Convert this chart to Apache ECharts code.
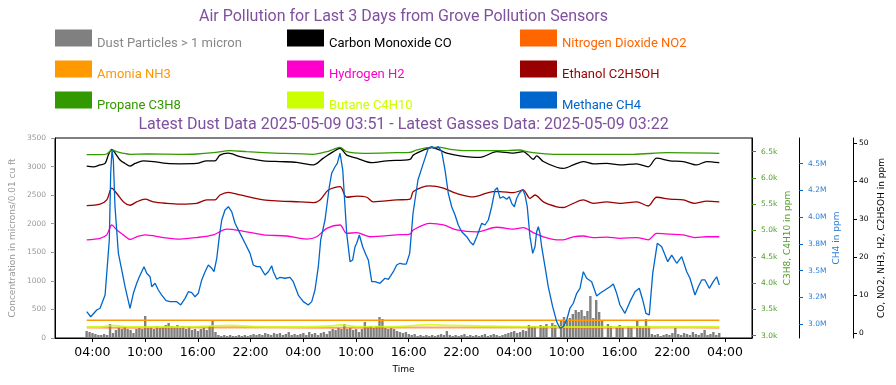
<!DOCTYPE html>
<html><head><meta charset="utf-8">
<script src="https://cdn.jsdelivr.net/npm/echarts@6/dist/echarts.min.js"></script>
<style>html,body{margin:0;padding:0;background:#fff}#c{width:896px;height:385px}</style>
</head><body><div id="c"></div>
<script>
// ---------- texts ----------
const titleText = 'Air Pollution for Last 3 Days from Grove Pollution Sensors';
const subtitleText = 'Latest Dust Data 2025-05-09 03:51 - Latest Gasses Data: 2025-05-09 03:22';

// ---------- axis ticks (x in hours since 2025-05-06 00:00) ----------
const xTickHours = [4,10,16,22,28,34,40,46,52,58,64,70,76];
const xTickLabels = ['04:00','10:00','16:00','22:00','04:00','10:00','16:00','22:00','04:00','10:00','16:00','22:00','04:00'];
const dustTicks = [0,500,1000,1500,2000,2500,3000,3500];
const dustTickLabels = ['0','500','1000','1500','2000','2500','3000','3500'];
const hcTicks = [3000,3500,4000,4500,5000,5500,6000,6500];
const hcTickLabels = ['3.0k','3.5k','4.0k','4.5k','5.0k','5.5k','6.0k','6.5k'];
const ch4Ticks = [3.0,3.25,3.5,3.75,4.0,4.25,4.5];
const ch4TickLabels = ['3.0M','3.2M','3.5M','3.8M','4.0M','4.2M','4.5M'];
const ppmTicks = [0,10,20,30,40,50];
const ppmTickLabels = ['0','10','20','30','40','50'];

// ---------- dust: 20-minute readings starting 03:21 on 2025-05-06 ----------
const dustStartHour = 3.35;
const dustStepHour = 1/3;
const dustValues = [
123,105,88,70,53,53,70,53,245,88,
140,175,158,193,158,140,88,158,175,158,
385,175,193,158,210,175,193,228,263,210,
193,228,175,210,158,193,140,158,123,158,
175,140,210,298,105,53,35,53,35,53,
35,35,53,35,53,35,53,70,53,70,
53,88,70,53,88,70,88,53,70,105,
53,70,53,70,88,53,105,70,88,53,
88,105,70,123,158,140,175,158,245,158,
175,140,158,105,158,280,193,210,175,210,
368,333,175,158,175,158,123,105,88,105,
70,53,70,35,53,35,53,35,53,35,
53,70,53,123,53,35,53,35,53,70,
35,53,35,53,35,53,70,35,53,70,
53,35,53,70,88,105,123,88,105,140,
123,228,193,210,0,228,210,245,0,263,
228,0,315,368,298,350,420,490,455,490,
385,473,735,350,665,455,315,0,245,210,
0,193,228,175,0,210,193,0,315,210,
193,333,210,70,53,70,35,53,70,53,
88,175,70,53,88,70,53,105,70,53,
88,140,53,70,105,53,88];

// ---------- CH4 (millions of ppm) ----------
const ch4Hours = [3.36,3.82,4.50,4.88,5.45,5.64,5.93,6.09,6.24,6.39,6.58,6.96,7.35,7.72,8.29,8.67,9.05,9.35,9.62,9.88,
10.19,10.57,10.76,11.14,11.51,11.90,12.39,12.84,13.61,14.06,14.55,14.93,15.31,15.69,16.06,16.45,16.83,17.20,17.59,17.85,
18.16,18.45,18.73,19.10,19.48,19.86,20.24,20.81,21.38,21.95,22.32,22.71,23.09,23.65,24.03,24.42,24.60,24.99,25.36,25.93,
26.50,26.87,27.44,28.01,28.58,28.97,29.34,29.72,29.99,30.48,30.97,31.24,31.62,31.88,32.19,32.50,32.76,32.95,33.33,33.63,
33.90,34.09,34.39,34.77,35.15,35.41,35.80,36.17,36.74,37.31,37.69,38.26,38.64,39.02,39.39,39.73,40.12,40.50,41.06,41.67,
42.24,42.63,43.00,43.38,43.76,44.14,44.51,44.90,45.28,45.65,46.04,46.61,46.98,47.36,47.75,48.32,48.69,49.07,49.45,49.83,
50.09,50.40,50.77,51.16,51.46,51.73,52.03,52.30,52.59,52.98,53.24,53.50,53.81,54.12,54.38,54.57,54.76,54.95,55.14,55.52,
55.89,56.39,56.85,57.23,57.60,57.99,58.36,58.74,59.13,59.50,59.88,60.26,60.83,61.40,61.78,62.35,62.92,63.29,63.68,64.05,
64.62,65.19,65.76,66.25,66.64,67.01,67.39,67.78,68.30,68.80,69.18,69.49,69.94,70.51,71.08,71.65,72.02,72.59,72.97,73.35,
73.73,74.22,74.67,75.06,75.36];
const ch4Values = [3.115,3.068,3.131,3.147,3.271,3.287,3.786,4.413,4.628,4.534,4.097,3.664,3.505,3.349,3.147,3.287,3.381,3.442,3.489,3.536,
3.474,3.442,3.349,3.381,3.318,3.271,3.218,3.209,3.209,3.178,3.240,3.302,3.293,3.255,3.287,3.412,3.489,3.552,3.521,3.489,
3.615,3.817,3.973,4.066,4.097,4.051,3.942,3.848,3.755,3.661,3.552,3.536,3.536,3.458,3.489,3.543,3.489,3.418,3.437,3.428,
3.437,3.396,3.271,3.209,3.178,3.209,3.318,3.536,3.786,3.973,4.284,4.410,4.471,4.503,4.597,4.441,4.097,3.848,3.583,3.599,
3.723,3.755,3.833,3.723,3.645,3.599,3.396,3.396,3.381,3.428,3.418,3.489,3.552,3.568,3.560,3.561,3.661,4.036,4.347,4.503,
4.644,4.659,4.644,4.659,4.612,4.441,4.223,4.097,4.020,3.926,3.863,3.817,3.770,3.739,3.817,3.942,3.926,3.973,4.097,4.254,
4.275,4.176,4.191,4.167,4.191,4.129,4.097,4.176,4.223,4.260,4.207,4.097,3.817,3.661,3.723,3.863,3.910,3.848,3.723,3.536,
3.349,3.162,3.022,2.960,2.975,3.037,3.147,3.194,3.287,3.334,3.489,3.428,3.396,3.262,3.287,3.318,3.349,3.374,3.287,3.178,
3.100,3.209,3.302,3.334,3.225,3.100,3.084,3.474,3.755,3.723,3.645,3.583,3.645,3.568,3.630,3.489,3.428,3.271,3.349,3.412,
3.412,3.334,3.396,3.442,3.365];

// ---------- Propane C3H8 (ppm) ----------
const c3h8Hours = [3.36,4.88,5.64,6.24,6.78,7.53,8.29,10.19,13.98,15.88,17.77,19.67,21.57,25.36,29.15,30.68,31.43,32.19,32.95,34.84,
38.64,40.16,40.92,42.43,43.57,44.71,46.61,50.40,52.68,53.44,54.95,56.85,61.78,65.57,69.37,75.36];
const c3h8Values = [6443,6443,6456,6532,6500,6469,6450,6456,6450,6456,6481,6519,6500,6469,6450,6500,6545,6583,6500,6469,
6481,6488,6532,6583,6583,6545,6519,6519,6532,6500,6469,6450,6450,6450,6481,6469];

// ---------- Butane C4H10 (ppm) ----------
const c4h10Hours = [3.36,4.88,6.24,7.72,10.57,13.98,17.74,19.67,23.09,27.64,31.05,32.19,34.46,39.02,42.43,44.71,48.12,52.68,57.23,61.78,67.47,75.36];
const c4h10Values = [3165,3165,3198,3171,3165,3165,3184,3198,3171,3165,3184,3203,3171,3179,3209,3198,3184,3171,3165,3165,3165,3165];

// ---------- CO (ppm) ----------
const coHours = [3.36,4.11,4.88,5.45,5.82,6.21,6.58,7.15,7.72,8.29,8.86,9.80,10.94,12.47,13.98,15.88,17.02,17.96,18.53,19.48,
20.81,23.46,25.36,27.26,29.15,30.29,31.43,32.19,32.95,34.09,35.80,37.50,40.16,40.53,41.67,42.63,43.57,44.33,45.85,48.12,
50.02,51.91,53.05,53.62,54.19,54.57,55.33,56.85,57.60,58.74,59.88,61.02,62.54,64.05,65.95,67.27,68.22,69.74,71.26,72.78,
73.92,75.36];
const coValues = [44.0,43.8,44.3,44.7,46.9,48.4,47.5,45.6,44.7,44.0,44.7,45.4,45.2,44.7,44.6,44.7,45.4,45.4,46.9,47.4,
46.5,45.4,45.2,45.0,44.3,46.1,47.8,48.7,46.9,46.1,44.9,45.4,45.8,46.9,48.2,48.9,48.2,47.4,46.7,46.3,
47.8,47.4,47.8,46.9,45.8,46.7,45.2,43.7,43.4,44.3,45.2,44.6,44.7,44.3,44.6,43.8,46.1,45.4,45.2,44.3,
45.2,44.9];

// ---------- Ethanol C2H5OH (ppm) ----------
const ethHours = [3.36,4.88,5.64,6.21,6.78,7.53,8.29,9.05,10.00,10.94,12.47,13.98,15.88,17.02,17.96,18.53,19.48,20.81,23.46,25.36,
27.64,29.15,29.91,30.86,32.19,32.95,34.09,35.23,35.98,38.64,40.16,40.53,42.43,43.95,45.47,47.36,49.64,50.40,51.91,53.05,
53.81,54.38,55.33,56.85,57.60,58.74,59.88,61.02,62.54,64.05,65.95,67.27,68.22,69.74,71.26,72.59,73.92,75.36];
const ethValues = [33.6,34.0,35.1,38.2,36.8,34.6,33.7,34.6,35.3,34.6,34.2,34.0,34.2,35.1,35.1,36.4,37.1,36.4,35.1,34.8,
34.6,34.4,35.1,37.7,38.6,35.8,36.1,35.8,34.6,35.1,35.3,37.3,38.8,38.2,36.8,35.9,37.3,37.3,37.0,37.7,
35.5,36.4,34.6,33.3,33.1,34.2,35.1,34.2,34.6,34.2,34.6,33.5,35.8,35.3,35.1,34.2,34.8,34.6];

// ---------- Hydrogen H2 (ppm) ----------
const h2Hours = [3.36,4.88,5.64,6.21,6.78,7.53,8.29,9.05,10.00,12.08,13.98,15.88,17.77,19.29,20.81,23.46,26.12,28.40,29.54,30.68,
32.19,32.95,34.09,35.60,38.64,40.16,40.53,42.43,43.95,45.47,47.75,50.02,51.91,53.05,54.19,55.33,56.85,57.60,58.74,59.88,
61.02,62.54,64.05,65.95,67.27,68.22,69.74,71.26,72.59,73.92,75.36];
const h2Values = [24.6,25.0,25.9,28.5,27.2,25.9,24.7,25.4,25.9,25.2,24.8,25.2,25.9,27.4,27.0,25.9,25.6,24.8,25.4,27.6,
28.5,26.3,26.5,25.4,25.9,26.1,27.2,28.9,28.5,27.2,26.7,27.9,27.4,27.8,26.5,25.4,24.6,24.6,25.4,25.6,
25.2,25.3,25.0,25.2,24.6,26.3,26.1,25.9,25.2,25.4,25.4];

// ---------- Ammonia NH3 and NO2 (ppm) ----------
const nh3Hours = [3.36,20,40,60,75.36];
const nh3Values = [3.42,3.42,3.42,3.42,3.42];
const no2Hours = [3.36,10,20,30,40,50,60,70,75.36];
const no2Values = [1.5,1.45,1.55,1.45,1.5,1.55,1.45,1.5,1.45];

// ---------- build ----------
const zip = (a, b) => a.map((t, i) => [t, b[i]]);
const dustData = dustValues.map((v, i) => [dustStartHour + i * dustStepHour, v]);
const nearestLabel = (ticks, labels) => v => {
  let best = 0;
  ticks.forEach((t, i) => { if (Math.abs(t - v) < Math.abs(ticks[best] - v)) best = i; });
  return labels[best];
};

const AX = 'DejaVu Sans';
const C = {
  dust: '#808080', co: '#000000', no2: '#ff6600', nh3: '#ff9900', h2: '#ff00cc',
  eth: '#990000', c3h8: '#339900', c4h10: '#ccff00', ch4: '#0066cc'
};

function rightAxis(offset, min, max, ticks, labels, color, labelColor, name, nameGap, margin) {
  return {
    type: 'value', position: 'right', offset, min, max,
    splitLine: { show: false },
    axisLine: { show: true, onZero: false, lineStyle: { color: '#000', width: 1 } },
    axisTick: { show: true, length: 4, customValues: ticks, lineStyle: { color } },
    axisLabel: { customValues: ticks, formatter: nearestLabel(ticks, labels), color: labelColor,
      fontSize: 7.5, fontFamily: AX, margin },
    name, nameLocation: 'middle', nameRotate: 90, nameGap, nameMoveOverlap: false,
    nameTextStyle: { color: labelColor, fontSize: 9, fontFamily: AX }
  };
}

function line(name, hours, values, color, yAxisIndex, extra) {
  return Object.assign({
    type: 'line', name, yAxisIndex, data: zip(hours, values), symbol: 'none', showSymbol: false,
    smooth: 0.3, lineStyle: { width: 1.3, color }, itemStyle: { color }, z: 3
  }, extra || {});
}

const legendBase = {
  orient: 'vertical', itemWidth: 37, itemHeight: 17, itemGap: 6, icon: 'rect', top: 25.5,
  padding: 0, selectedMode: false,
  formatter: '\n{name}',
  textStyle: { fontFamily: 'Roboto', fontSize: 13, lineHeight: 12 }
};
const li = (name, color) => ({ name, textStyle: { color } });

const option = {
  animation: false,
  backgroundColor: '#fff',
  grid: { left: 55, right: 144, top: 138, bottom: 47, show: true, borderColor: '#000', borderWidth: 1 },
  graphic: [
    { type: 'text', x: 403.5, y: 17, style: { text: titleText, fill: '#8050a0', fontSize: 16, fontFamily: 'Roboto', align: 'center', verticalAlign: 'middle' } },
    { type: 'text', x: 403.5, y: 125, style: { text: subtitleText, fill: '#8050a0', fontSize: 16, fontFamily: 'Roboto', align: 'center', verticalAlign: 'middle' } }
  ],
  legend: [
    Object.assign({}, legendBase, { left: 55, data: [li('Dust Particles > 1 micron', '#888888'), li('Amonia NH3', C.nh3), li('Propane C3H8', C.c3h8)] }),
    Object.assign({}, legendBase, { left: 287, data: [li('Carbon Monoxide CO', '#000000'), li('Hydrogen H2', C.h2), li('Butane C4H10', C.c4h10)] }),
    Object.assign({}, legendBase, { left: 520, data: [li('Nitrogen Dioxide NO2', C.no2), li('Ethanol C2H5OH', C.eth), li('Methane CH4', C.ch4)] })
  ],
  xAxis: {
    type: 'value', min: -0.25, max: 79.08,
    splitLine: { show: false },
    axisLine: { show: true, onZero: false, lineStyle: { color: '#000' } },
    axisTick: { show: true, length: 4, customValues: xTickHours, lineStyle: { color: '#000' } },
    axisLabel: { customValues: xTickHours, formatter: nearestLabel(xTickHours, xTickLabels), color: '#000', fontSize: 12.5, fontFamily: AX, margin: 8 },
    name: 'Time', nameLocation: 'middle', nameGap: 27, nameMoveOverlap: false,
    nameTextStyle: { color: '#000', fontSize: 9, fontFamily: AX }
  },
  yAxis: [
    {
      type: 'value', position: 'left', min: 0, max: 3500,
      splitLine: { show: false },
      axisLine: { show: true, onZero: false, lineStyle: { color: '#000' } },
      axisTick: { show: true, length: 4, customValues: dustTicks, lineStyle: { color: '#999' } },
      axisLabel: { customValues: dustTicks, formatter: nearestLabel(dustTicks, dustTickLabels), color: '#999', fontSize: 7.5, fontFamily: AX, margin: 9 },
      name: 'Concentration in microns/0.01 cu ft', nameLocation: 'middle', nameRotate: 90, nameGap: 38, nameMoveOverlap: false,
      nameTextStyle: { color: '#999', fontSize: 9, fontFamily: AX }
    },
    rightAxis(0, 2956, 6760, hcTicks, hcTickLabels, C.c3h8, '#4fa02a', 'C3H8, C4H10 in ppm', 31.5, 9),
    rightAxis(47, 2.869, 4.740, ch4Ticks, ch4TickLabels, C.ch4, '#2f7fd6', 'CH4 in ppm', 33.5, 9),
    rightAxis(101, -1.25, 51.4, ppmTicks, ppmTickLabels, '#000', '#000', 'CO, NO2, NH3, H2, C2H5OH in ppm', 24, 6)
  ],
  series: [
    { type: 'bar', name: 'Dust Particles > 1 micron', yAxisIndex: 0, data: dustData, barWidth: 2.4,
      itemStyle: { color: C.dust }, z: 2 },
    line('Carbon Monoxide CO', coHours, coValues, C.co, 3),
    line('Nitrogen Dioxide NO2', no2Hours, no2Values, C.no2, 3, { lineStyle: { width: 2, color: C.no2, opacity: 0.6 } }),
    line('Amonia NH3', nh3Hours, nh3Values, C.nh3, 3),
    line('Hydrogen H2', h2Hours, h2Values, C.h2, 3),
    line('Ethanol C2H5OH', ethHours, ethValues, C.eth, 3),
    line('Propane C3H8', c3h8Hours, c3h8Values, C.c3h8, 1),
    line('Butane C4H10', c4h10Hours, c4h10Values, C.c4h10, 1, { lineStyle: { width: 1.8, color: C.c4h10, opacity: 0.8 } }),
    line('Methane CH4', ch4Hours, ch4Values, C.ch4, 2, { smooth: false })
  ]
};

const chart = echarts.init(document.getElementById('c'), null, { renderer: 'canvas' });
chart.setOption(option);
</script></body></html>
